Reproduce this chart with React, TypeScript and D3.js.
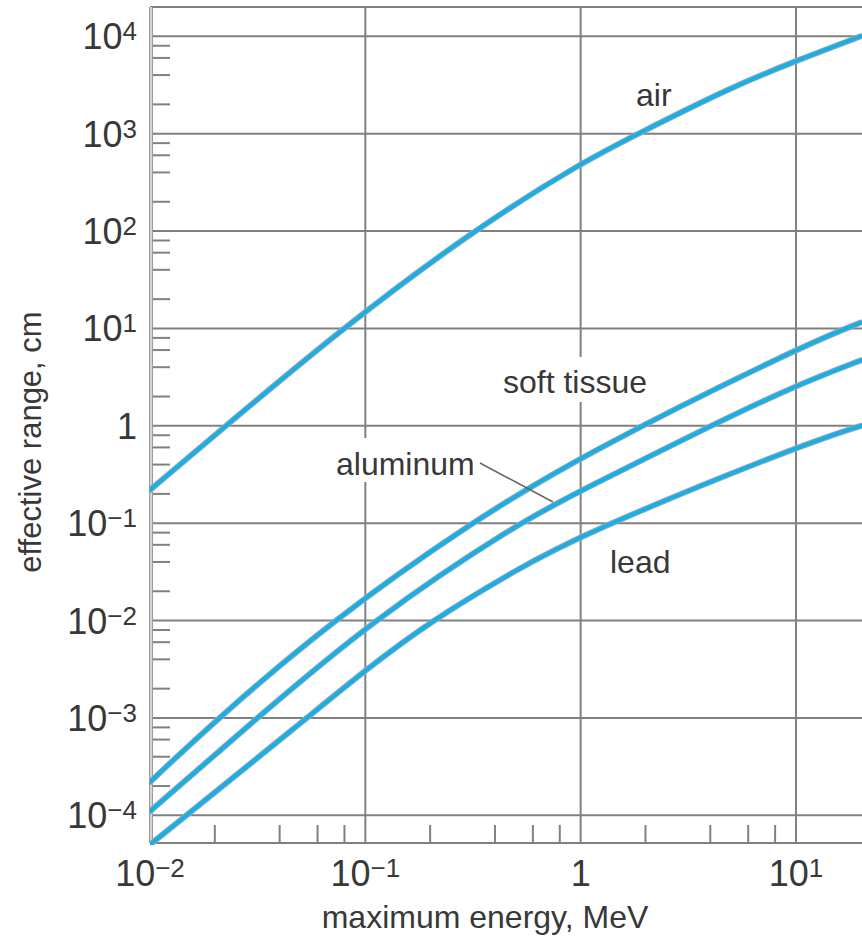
import React from "react";
import * as d3 from "d3";

// ---- data ----
const AIR_E = [0.01, 0.0225, 0.078, 0.313, 1, 1.85, 5, 10, 20];
const AIR_R = [0.22, 1, 10, 100, 500, 1000, 3000, 5600, 10000];

const TISSUE_E = [0.01, 0.0207, 0.07, 0.306, 1, 10, 20];
const TISSUE_R = [2.2e-4, 1e-3, 1e-2, 0.1, 0.49, 6.2, 11.5];

const ALU_E = [0.01, 0.0314, 0.107, 0.51, 1, 4, 10, 20];
const ALU_R = [1.1e-4, 1e-3, 0.01, 0.1, 0.215, 1, 2.6, 4.7];

const LEAD_E = [0.01, 0.0536, 0.1, 0.2, 0.5, 1, 10, 20];
const LEAD_R = [5e-5, 1e-3, 0.0031, 0.0098, 0.033, 0.076, 0.61, 1.0];

const X_TICKS = [0.01, 0.1, 1, 10];
const X_TICK_BASE = ["10", "10", "1", "10"];
const X_TICK_EXP = ["−2", "−1", "", "1"];

const Y_TICKS = [1e-4, 1e-3, 1e-2, 1e-1, 1, 10, 100, 1000, 10000];
const Y_TICK_BASE = ["10", "10", "10", "10", "1", "10", "10", "10", "10"];
const Y_TICK_EXP = ["−4", "−3", "−2", "−1", "", "1", "2", "3", "4"];

const MINOR_MULTS = [2, 4, 6, 8];
const X_MINOR_DECADES = [0.01, 0.1, 1];
const Y_MINOR_DECADES = [1e-4, 1e-3, 1e-2, 1e-1, 1, 10, 100, 1000];

const X_DOMAIN = [0.01, 20.26];
const Y_DOMAIN = [5.2e-5, 2.0e4];

const SERIES = [
  { name: "air", e: AIR_E, r: AIR_R },
  { name: "soft tissue", e: TISSUE_E, r: TISSUE_R },
  { name: "aluminum", e: ALU_E, r: ALU_R },
  { name: "lead", e: LEAD_E, r: LEAD_R },
];

const W = 862;
const H = 941;
const L = 150, R = 862, T = 7, B = 843;

export default function App() {
  const x = d3.scaleLog().domain(X_DOMAIN).range([L, R]);
  const y = d3.scaleLog().domain(Y_DOMAIN).range([B, T]);
  const line = d3
    .line<[number, number]>()
    .x((d) => x(d[0]))
    .y((d) => y(d[1]))
    .curve(d3.curveBasis);

  const grid = "#808080";
  const tickFont = "'Liberation Sans Narrow', 'Liberation Sans', Arial, sans-serif";
  const labelFont = "'Liberation Sans', Arial, sans-serif";
  const textColor = "#383838";

  const xMinor: number[] = [];
  X_MINOR_DECADES.forEach((d) => MINOR_MULTS.forEach((m) => xMinor.push(d * m)));
  const yMinor: number[] = [];
  Y_MINOR_DECADES.forEach((d) => MINOR_MULTS.forEach((m) => yMinor.push(d * m)));

  return (
    <svg
      width={W}
      height={H}
      viewBox={`0 0 ${W} ${H}`}
      style={{ position: "absolute", left: 0, top: 0, background: "#fff" }}
    >
      <defs>
        <clipPath id="plot">
          <rect x={L} y={T - 2} width={R - L} height={B - T + 4} />
        </clipPath>
      </defs>
      <rect x={0} y={0} width={W} height={H} fill="#fff" />

      {/* horizontal grid */}
      {Y_TICKS.map((v, i) => (
        <line key={"hg" + i} x1={L} x2={R} y1={y(v)} y2={y(v)} stroke={grid} strokeWidth={2} />
      ))}
      {/* top border */}
      <line x1={L} x2={R} y1={T} y2={T} stroke={grid} strokeWidth={2} />
      {/* vertical grid */}
      {X_TICKS.slice(1).map((v, i) => (
        <line key={"vg" + i} x1={x(v)} x2={x(v)} y1={T} y2={B} stroke={grid} strokeWidth={2} />
      ))}
      {/* bottom axis */}
      <line x1={L} x2={R} y1={B} y2={B} stroke={grid} strokeWidth={2} />
      {/* x minor ticks */}
      {xMinor.map((v, i) => (
        <line key={"xm" + i} x1={x(v)} x2={x(v)} y1={B} y2={B - 18} stroke={grid} strokeWidth={2} />
      ))}
      {/* y minor ticks */}
      {yMinor.map((v, i) => (
        <line key={"ym" + i} x1={L} x2={L + 20} y1={y(v)} y2={y(v)} stroke={grid} strokeWidth={2} />
      ))}
      {/* left axis (double line) */}
      <line x1={L + 1} x2={L + 1} y1={T} y2={B} stroke="#9a9a9a" strokeWidth={4} />
      <line x1={L + 1} x2={L + 1} y1={T} y2={B} stroke="#d4d4d4" strokeWidth={2} />

      {/* white backgrounds under labels that interrupt grid */}
      <rect x={498} y={357} width={160} height={45} fill="#fff" />
      <rect x={332} y={438} width={145} height={44} fill="#fff" />

      {/* curves */}
      <g clipPath="url(#plot)">
        {SERIES.map((s) => {
          const pts = s.e.map((e, i) => [e, s.r[i]] as [number, number]);
          const d = line(pts) || "";
          return (
            <g key={s.name}>
              <path d={d} fill="none" stroke="#8fa9b5" strokeWidth={6} strokeLinecap="round" />
              <path d={d} fill="none" stroke="#1aaee6" strokeWidth={4} strokeLinecap="round" />
            </g>
          );
        })}
      </g>

      {/* leader for aluminum */}
      <line x1={480} y1={463} x2={553} y2={502} stroke="#666" strokeWidth={1.5} />

      {/* curve labels */}
      <g fontFamily={labelFont} fontSize={32} fill={textColor}>
        <text x={636} y={106}>air</text>
        <text x={503} y={393}>soft tissue</text>
        <text x={336} y={475}>aluminum</text>
        <text x={610} y={573}>lead</text>
      </g>

      {/* y tick labels */}
      <g fontFamily={tickFont} fill={textColor}>
        {Y_TICKS.map((v, i) => (
          <text key={"yl" + i} x={137} y={y(v) + 13} textAnchor="end" fontSize={36}>
            <tspan>{Y_TICK_BASE[i]}</tspan>
            {Y_TICK_EXP[i] && (
              <tspan dy={-9} fontSize={26}>
                {Y_TICK_EXP[i]}
              </tspan>
            )}
          </text>
        ))}
      </g>

      {/* x tick labels */}
      <g fontFamily={tickFont} fill={textColor}>
        {X_TICKS.map((v, i) => (
          <text key={"xl" + i} x={x(v)} y={886} textAnchor="middle" fontSize={36}>
            <tspan>{X_TICK_BASE[i]}</tspan>
            {X_TICK_EXP[i] && (
              <tspan dy={-9} fontSize={26}>
                {X_TICK_EXP[i]}
              </tspan>
            )}
          </text>
        ))}
      </g>

      {/* axis titles */}
      <text
        x={485}
        y={928}
        textAnchor="middle"
        fontFamily={labelFont}
        fontSize={32}
        fill={textColor}
      >
        maximum energy, MeV
      </text>
      <text
        transform={`translate(41, 442) rotate(-90)`}
        textAnchor="middle"
        fontFamily={labelFont}
        fontSize={31}
        fill={textColor}
      >
        effective range, cm
      </text>
    </svg>
  );
}
